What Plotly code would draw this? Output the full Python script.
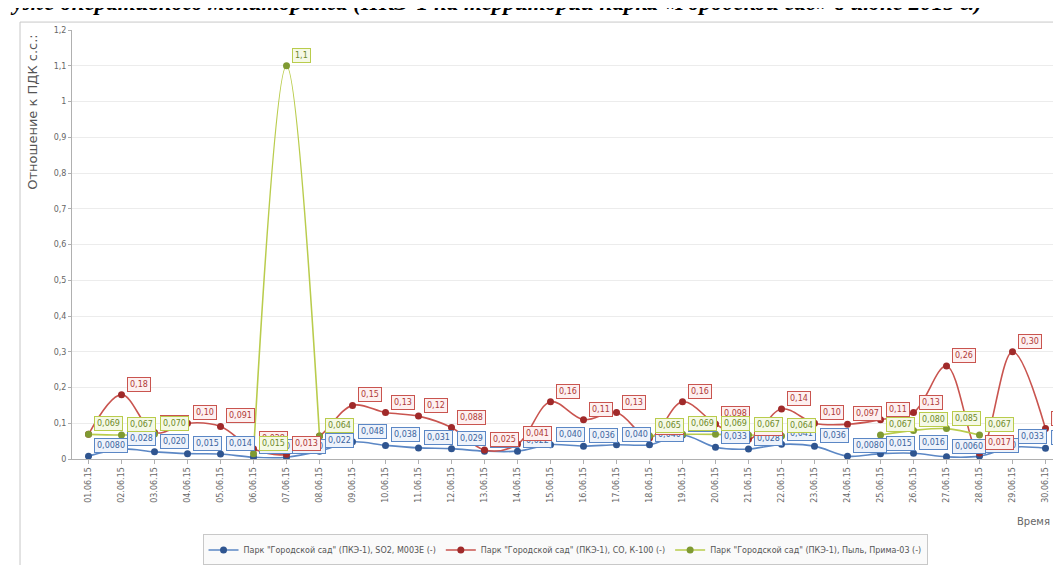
import plotly.graph_objects as go

dates = [f"{d:02d}.06.15" for d in range(1, 31)]

so2 = [0.008, 0.028, 0.020, 0.015, 0.014, 0.005, 0.005, 0.022, 0.048, 0.038,
       0.031, 0.029, 0.022, 0.022, 0.040, 0.036, 0.040, 0.040, 0.067, 0.033,
       0.028, 0.041, 0.036, 0.008, 0.015, 0.016, 0.006, 0.008, 0.033, 0.030]

co = [0.069, 0.18, 0.074, 0.10, 0.091, 0.028, 0.013, 0.064, 0.15, 0.13,
      0.12, 0.088, 0.025, 0.041, 0.16, 0.11, 0.13, 0.059, 0.16, 0.098,
      0.055, 0.14, 0.10, 0.097, 0.11, 0.13, 0.26, 0.017, 0.30, 0.085]

dust = [0.069, 0.067, 0.070, None, None, 0.015, 1.1, 0.064, None, None,
        None, None, None, None, None, None, None, 0.065, 0.069, 0.069,
        0.067, 0.064, None, None, 0.067, 0.080, 0.085, 0.067, None, None]

names = ['Парк "Городской сад" (ПКЭ-1), SO2, М003Е (-)',
         'Парк "Городской сад" (ПКЭ-1), CO, К-100 (-)',
         'Парк "Городской сад" (ПКЭ-1), Пыль, Прима-03 (-)']

series = [so2, co, dust]
line_colors = ["#5b87c5", "#c9544f", "#b9cc4c"]
marker_colors = ["#2f5590", "#a02a2a", "#7f9a32"]
label_text = ["#3b64a0", "#b03a37", "#6e8a2a"]
label_bg = ["#eef3fb", "#fdf0f0", "#f5f9e6"]


def fmt(v):
    if v >= 1:
        s = f"{v:.1f}"
    elif v >= 0.1:
        s = f"{v:.2f}"
    elif v >= 0.01:
        s = f"{v:.3f}"
    else:
        s = f"{v:.4f}"
    return s.replace(".", ",")


fig = go.Figure()
annotations = []
for i, (vals, name) in enumerate(zip(series, names)):
    fig.add_trace(go.Scatter(
        x=dates, y=vals, name=name, mode="lines+markers",
        line=dict(color=line_colors[i], width=1.6, shape="spline", smoothing=1.0),
        marker=dict(color=marker_colors[i], size=7),
        connectgaps=False,
    ))
    for d, v in zip(dates, vals):
        if v is None:
            continue
        annotations.append(dict(
            x=d, y=v, xref="x", yref="y", text=fmt(v), showarrow=False,
            xanchor="left", yanchor="bottom", xshift=5, yshift=3,
            font=dict(family="DejaVu Sans", size=8, color=label_text[i]),
            bgcolor=label_bg[i], bordercolor=line_colors[i], borderwidth=1, borderpad=2,
        ))

annotations.append(dict(
    x=-0.040, y=0.808, xref="paper", yref="paper", xanchor="center", yanchor="middle",
    text="Отношение к ПДК с.с.:",
    textangle=-90, showarrow=False, font=dict(family="DejaVu Sans", size=13, color="#555555"),
))
annotations.append(dict(
    x=0.971, y=-0.1455, xref="paper", yref="paper", xanchor="center", yanchor="middle",
    text="Время", showarrow=False,
    font=dict(family="DejaVu Sans", size=10, color="#666666"),
))
annotations.append(dict(
    x=-0.065, y=1.064, xref="paper", yref="paper", xanchor="left", yanchor="middle",
    text="<b><i>уже оперативного мониторинга (ПКЭ-1 на территории парка «Городской сад» в июне 2015 г.)</i></b>",
    showarrow=False, font=dict(family="Liberation Serif", size=23, color="#000000"),
))

fig.update_layout(
    width=1061, height=565, autosize=False,
    margin=dict(l=64, r=7, t=22, b=110),
    paper_bgcolor="white", plot_bgcolor="white",
    separators=", ",
    showlegend=True,
    legend=dict(orientation="h", x=0.498, y=-0.212, xanchor="center", yanchor="middle",
                font=dict(family="DejaVu Sans", size=8, color="#555555"),
                bgcolor="#fafafa", bordercolor="#c8c8c8", borderwidth=1,
                itemwidth=30, tracegroupgap=0),
    annotations=annotations,
    xaxis=dict(type="category", range=[-0.5, 29.5], tickangle=-90,
               tickfont=dict(family="DejaVu Sans", size=8, color="#666666"),
               showgrid=False, showline=True, linecolor="#b0b0b0",
               ticks="outside", ticklen=4, tickcolor="#b0b0b0"),
    yaxis=dict(range=[0, 1.2], dtick=0.1, tick0=0,
               tickfont=dict(family="DejaVu Sans", size=8, color="#666666"),
               showgrid=True, gridcolor="#ececec", zeroline=False,
               showline=True, linecolor="#b0b0b0", ticks="outside", ticklen=3,
               tickcolor="#b0b0b0"),
    shapes=[
        dict(type="rect", xref="paper", yref="paper", x0=-0.0525, x1=1.02, y0=-0.3, y1=1.0185,
             line=dict(color="#c8c8c8", width=1), fillcolor="rgba(0,0,0,0)", layer="below"),
    ],
)

fig.write_html("out.html")
